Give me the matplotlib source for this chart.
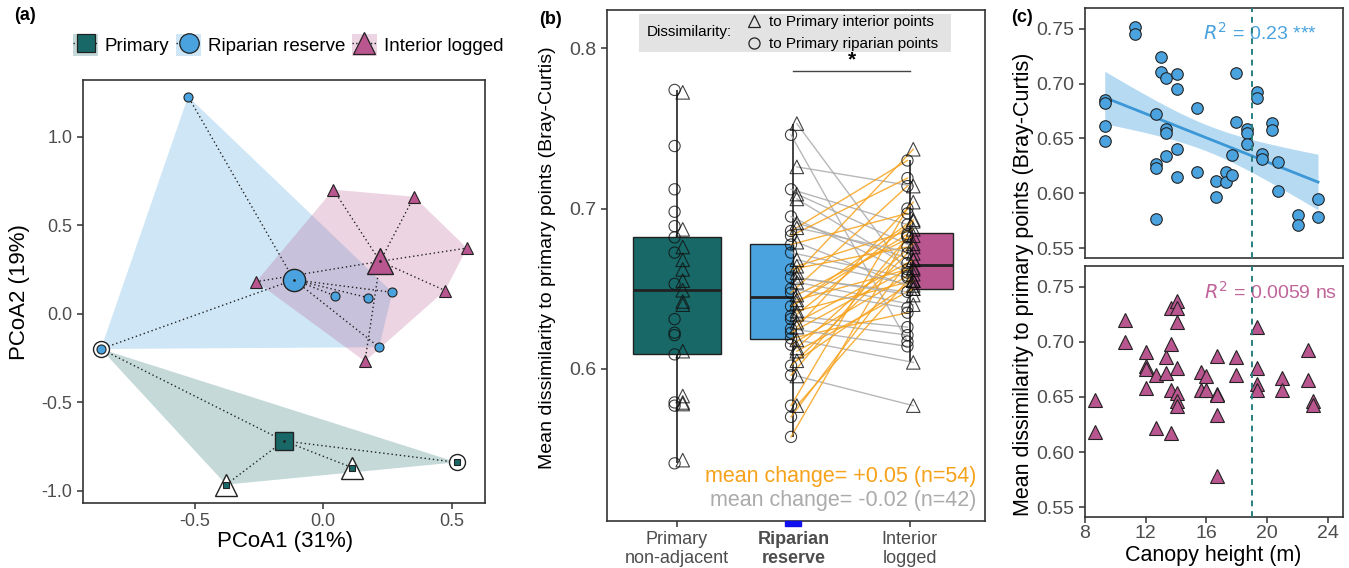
import numpy as np
import matplotlib
matplotlib.use('Agg')
import matplotlib.pyplot as plt
import matplotlib.transforms as mtransforms
from matplotlib.lines import Line2D
from matplotlib.patches import Patch, Rectangle, Polygon
from matplotlib.legend_handler import HandlerTuple
from matplotlib.ticker import FormatStrFormatter

plt.rcParams['font.family'] = ['Liberation Sans', 'DejaVu Sans']
plt.rcParams['axes.unicode_minus'] = False

PRIM = '#186868'
RIP = '#4aa3df'
LOG = '#b9558f'
ORANGE = '#f7a21b'
GREY = '#ababab'
TICK = '#4d4d4d'

# ---- (a) PCoA ordination
prim_x = [-0.864, -0.377, 0.113, 0.520]
prim_y = [-0.200, -0.966, -0.870, -0.840]
prim_kind = ['riparian', 'interior', 'interior', 'riparian']
rip_x = [-0.525, 0.047, 0.175, 0.270, 0.218, -0.864]
rip_y = [1.226, 0.100, 0.090, 0.120, -0.190, -0.200]
log_x = [0.040, 0.354, 0.560, 0.475, 0.163, -0.260]
log_y = [0.700, 0.660, 0.370, 0.130, -0.270, 0.180]

# ---- (b) dissimilarity to primary points
prim_tri = [0.7725, 0.687, 0.676, 0.668, 0.662, 0.655, 0.649, 0.642, 0.640,
            0.611, 0.583, 0.579, 0.578, 0.543]
prim_circ = [0.774, 0.739, 0.712, 0.698, 0.689, 0.682, 0.6725, 0.653, 0.631,
             0.6225, 0.621, 0.609, 0.579, 0.577, 0.541]
# riparian point -> paired interior logged point
rip_vals = [0.753, 0.746, 0.726, 0.712, 0.709, 0.706, 0.695, 0.691, 0.686, 0.683,
            0.679, 0.6775, 0.6725, 0.664, 0.660, 0.657, 0.654, 0.6475, 0.646, 0.643,
            0.639, 0.636, 0.633, 0.631, 0.629, 0.626, 0.6225, 0.619, 0.618, 0.613,
            0.611, 0.602, 0.596, 0.5955, 0.577, 0.577, 0.570, 0.5575, 0.668, 0.662,
            0.650, 0.641, 0.657, 0.634, 0.625, 0.615, 0.605, 0.688]
log_vals = [0.655, 0.617, 0.714, 0.690, 0.676, 0.662, 0.660, 0.668, 0.730, 0.719,
            0.650, 0.697, 0.657, 0.687, 0.737, 0.648, 0.640, 0.714, 0.683, 0.663,
            0.684, 0.655, 0.626, 0.621, 0.668, 0.704, 0.662, 0.635, 0.604, 0.678,
            0.650, 0.672, 0.682, 0.577, 0.659, 0.700, 0.666, 0.683, 0.652, 0.676,
            0.638, 0.693, 0.646, 0.692, 0.614, 0.658, 0.655, 0.672]
pair_marker = ['^', 'o', '^', 'o', '^', '^', 'o', '^', 'o', 'o',
               '^', 'o', 'o', '^', '^', 'o', '^', 'o', '^', '^',
               'o', '^', 'o', 'o', '^', '^', 'o', 'o', '^', '^',
               '^', 'o', 'o', '^', '^', 'o', 'o', 'o', '^', 'o',
               'o', '^', '^', '^', 'o', 'o', '^', '^']
groups_b = ['Primary\nnon-adjacent', 'Riparian\nreserve', 'Interior\nlogged']

# ---- (c) canopy height
rip_height = [9.3, 9.3, 9.3, 9.3, 11.27, 11.27, 12.67, 12.67, 12.67, 12.67,
              13.0, 13.0, 13.33, 13.33, 13.33, 13.33, 14.03, 14.03, 14.03, 14.03,
              15.35, 15.35, 16.66, 16.66, 17.32, 17.32, 17.7, 17.7, 17.98, 17.98,
              18.64, 18.64, 18.64, 19.34, 19.34, 19.69, 19.69, 20.35, 20.35,
              20.7, 20.7, 22.0, 22.0, 23.35, 23.35]
rip_dissim = [0.685, 0.682, 0.661, 0.648, 0.752, 0.745, 0.672, 0.627, 0.623, 0.577,
              0.724, 0.711, 0.705, 0.659, 0.655, 0.634, 0.709, 0.695, 0.640, 0.615,
              0.678, 0.619, 0.611, 0.597, 0.619, 0.610, 0.635, 0.617, 0.710, 0.665,
              0.659, 0.655, 0.645, 0.692, 0.687, 0.636, 0.631, 0.664, 0.658,
              0.629, 0.602, 0.580, 0.571, 0.595, 0.578]
log_height = [8.66, 8.66, 10.63, 10.63, 11.99, 11.99, 11.99, 11.99, 12.67, 12.67,
              13.33, 13.33, 13.66, 13.66, 13.66, 13.66, 14.03, 14.03, 14.03, 14.03,
              14.03, 14.03, 14.03, 15.61, 15.61, 16.0, 16.0, 16.7, 16.7, 16.7, 16.7,
              16.7, 17.98, 17.98, 19.36, 19.36, 19.36, 19.36, 21.0, 21.0, 22.7, 22.7,
              23.0, 23.0]
log_dissim = [0.647, 0.618, 0.720, 0.700, 0.691, 0.678, 0.675, 0.658, 0.670, 0.622,
              0.686, 0.672, 0.731, 0.698, 0.656, 0.617, 0.737, 0.731, 0.718, 0.676,
              0.654, 0.646, 0.642, 0.673, 0.656, 0.669, 0.656, 0.687, 0.653, 0.652,
              0.634, 0.578, 0.686, 0.670, 0.714, 0.676, 0.662, 0.656, 0.667, 0.656,
              0.693, 0.665, 0.646, 0.643]


def convex_hull(xs, ys):
    pts = sorted(set(zip(xs, ys)))

    def cross(o, a, b):
        return (a[0] - o[0]) * (b[1] - o[1]) - (a[1] - o[1]) * (b[0] - o[0])

    lower, upper = [], []
    for p in pts:
        while len(lower) >= 2 and cross(lower[-2], lower[-1], p) <= 0:
            lower.pop()
        lower.append(p)
    for p in reversed(pts):
        while len(upper) >= 2 and cross(upper[-2], upper[-1], p) <= 0:
            upper.pop()
        upper.append(p)
    return lower[:-1] + upper[:-1]


def style_axes(ax, size=13):
    for s in ax.spines.values():
        s.set_color('#333333')
        s.set_linewidth(1.2)
    ax.tick_params(colors='#333333', labelcolor=TICK, labelsize=size, width=1.1, length=4)


fig = plt.figure(figsize=(13.49, 5.68), dpi=100)

# ================= panel (a)
ax1 = fig.add_axes([0.0615, 0.1144, 0.298, 0.745])
groups_a = [(prim_x, prim_y, PRIM, 's', 5, 13.5, 0.25),
            (rip_x, rip_y, RIP, 'o', 6.5, 16, 0.27),
            (log_x, log_y, LOG, '^', 8.5, 19, 0.25)]
for xs, ys, col, mk, ms, cms, al in groups_a:
    ax1.add_patch(Polygon(convex_hull(xs, ys), closed=True, facecolor=col,
                          alpha=al, edgecolor='none', zorder=1))
for xs, ys, col, mk, ms, cms, al in groups_a:
    cx, cy = np.mean(xs), np.mean(ys)
    for x, y in zip(xs, ys):
        ax1.plot([cx, x], [cy, y], ls=(0, (1, 2)), color='#222222', lw=1.0, zorder=2)
for x, y, k in zip(prim_x, prim_y, prim_kind):
    ax1.plot(x, y, marker='o' if k == 'riparian' else '^', ms=11.5 if k == 'riparian' else 16,
             mfc='white', mec='#222222', mew=1.0, zorder=3)
for xs, ys, col, mk, ms, cms, al in groups_a:
    ax1.plot(xs, ys, ls='none', marker=mk, ms=ms, mfc=col, mec='#222222', mew=0.8, zorder=4)
    ax1.plot(np.mean(xs), np.mean(ys), marker=mk, ms=cms, mfc=col, mec='#222222',
             mew=1.0, zorder=5)
    ax1.plot(np.mean(xs), np.mean(ys), marker='.', ms=2, color='#222222', zorder=6)
ax1.set_xlim(-0.934, 0.63)
ax1.set_ylim(-1.07, 1.32)
ax1.set_xticks([-0.5, 0.0, 0.5])
ax1.set_yticks([-1.0, -0.5, 0.0, 0.5, 1.0])
ax1.xaxis.set_major_formatter(FormatStrFormatter('%.1f'))
ax1.yaxis.set_major_formatter(FormatStrFormatter('%.1f'))
style_axes(ax1, 13)
fig.text(285 / 1349, 1 - 542 / 568, 'PCoA1 (31%)', ha='center', va='center', fontsize=16)
fig.text(20 / 1349, 1 - 292 / 568, 'PCoA2 (19%)', ha='center', va='center',
         fontsize=16, rotation=90)

leg_handles = []
for col, mk, ms, al in [(PRIM, 's', 13, 0.25), (RIP, 'o', 14, 0.27), (LOG, '^', 16, 0.25)]:
    leg_handles.append((Patch(facecolor=col, alpha=al, edgecolor='none'),
                        Line2D([], [], ls=':', color='#222222', lw=1),
                        Line2D([], [], ls='none', marker=mk, ms=ms, mfc=col,
                               mec='#222222', mew=0.9)))
fig.legend(leg_handles, ['Primary', 'Riparian reserve', 'Interior logged'],
           handler_map={tuple: HandlerTuple(ndivide=1)}, loc='center',
           bbox_to_anchor=(288 / 1349, 1 - 45 / 568), ncol=3, frameon=False,
           fontsize=13.5, handlelength=1.35, handleheight=1.45, handletextpad=0.35,
           columnspacing=0.35)

# ================= panel (b)
ax2 = fig.add_axes([0.450, 0.0827, 0.280, 0.900])


def draw_box(ax, vals, left, width, wx, col):
    q1, med, q3 = np.percentile(vals, [25, 50, 75])
    iqr = q3 - q1
    inside = [v for v in vals if q1 - 1.5 * iqr <= v <= q3 + 1.5 * iqr]
    ax.vlines(wx, min(inside), q1, color='#222222', lw=1.2, zorder=1)
    ax.vlines(wx, q3, max(inside), color='#222222', lw=1.2, zorder=1)
    ax.bar(left, q3 - q1, bottom=q1, width=width, align='edge', color=col,
           edgecolor='#222222', lw=1.0, zorder=1.5)
    ax.hlines(med, left, left + width, color='#222222', lw=2.0, zorder=1.6)


draw_box(ax2, prim_tri + prim_circ, 0.622, 0.756, 1.0, PRIM)
draw_box(ax2, rip_vals, 1.63, 0.37, 2.0, RIP)
draw_box(ax2, log_vals, 3.0, 0.375, 3.0, LOG)

off = {'^': 0.03, 'o': -0.02}
for r, l, mk in zip(rip_vals, log_vals, pair_marker):
    ax2.plot([2 + off[mk], 3 + off[mk]], [r, l], color=ORANGE if l > r else GREY,
             lw=1.0, alpha=0.85, zorder=2)

pts_style = dict(facecolors='none', edgecolors='#111111', linewidths=0.8, alpha=0.8, zorder=3)
ax2.scatter([1 + 0.05] * len(prim_tri), prim_tri, marker='^', s=95, **pts_style)
ax2.scatter([1 - 0.02] * len(prim_circ), prim_circ, marker='o', s=65, **pts_style)
for pos, vals in [(2, rip_vals), (3, log_vals)]:
    for v, mk in zip(vals, pair_marker):
        ax2.scatter(pos + off[mk], v, marker=mk, s=95 if mk == '^' else 65, **pts_style)

ax2.set_xlim(0.4, 3.644)
ax2.set_ylim(0.505, 0.824)
ax2.set_yticks([0.6, 0.7, 0.8])
ax2.yaxis.set_major_formatter(FormatStrFormatter('%.1f'))
ax2.set_xticks([1, 2, 3])
ax2.set_xticklabels(groups_b, linespacing=1.15)
style_axes(ax2, 14)
ax2.tick_params(axis='x', labelsize=13)
ax2.get_xticklabels()[1].set_fontweight('bold')
blend = mtransforms.blended_transform_factory(ax2.transData, ax2.transAxes)
ax2.add_patch(Rectangle((1.93, -0.009), 0.14, 0.009, transform=blend, color='#1010ee',
                        clip_on=False, zorder=5))

# legend box
ax2.add_patch(Rectangle((0.085, 0.918), 0.825, 0.074, transform=ax2.transAxes,
                        facecolor='#e3e3e3', edgecolor='none', zorder=4))
ax2.text(0.105, 0.956, 'Dissimilarity:', transform=ax2.transAxes, fontsize=11,
         va='center', zorder=5)
ax2.plot([0.388], [0.978], transform=ax2.transAxes, marker='^', ms=9, mfc='none',
         mec='#222222', mew=0.9, zorder=5)
ax2.plot([0.388], [0.935], transform=ax2.transAxes, marker='o', ms=8, mfc='none',
         mec='#222222', mew=0.9, zorder=5)
ax2.text(0.428, 0.977, 'to Primary interior points', transform=ax2.transAxes,
         fontsize=11, va='center', zorder=5)
ax2.text(0.428, 0.934, 'to Primary riparian points', transform=ax2.transAxes,
         fontsize=11, va='center', zorder=5)

ax2.plot([2, 3], [0.786, 0.786], color='#444444', lw=1.0)
ax2.text(2.5, 0.787, '*', ha='center', va='bottom', fontsize=15, fontweight='bold')
ax2.text(0.979, 0.088, 'mean change= +0.05 (n=54)', transform=ax2.transAxes,
         ha='right', va='center', fontsize=15.5, color=ORANGE)
ax2.text(0.979, 0.041, 'mean change= -0.02 (n=42)', transform=ax2.transAxes,
         ha='right', va='center', fontsize=15.5, color=GREY)
fig.text(548 / 1349, 1 - 258 / 568, 'Mean dissimilarity to primary points (Bray-Curtis)',
         rotation=90, ha='center', va='center', fontsize=14)

# ================= panel (c)
ax3 = fig.add_axes([0.8043, 0.5458, 0.1913, 0.4401])
ax4 = fig.add_axes([0.8043, 0.0898, 0.1913, 0.4419])


def fit_band(x, y, xs):
    x = np.asarray(x)
    y = np.asarray(y)
    n = len(x)
    b, a = np.polyfit(x, y, 1)
    resid = y - (a + b * x)
    s = np.sqrt(np.sum(resid ** 2) / (n - 2))
    se = s * np.sqrt(1 / n + (xs - x.mean()) ** 2 / np.sum((x - x.mean()) ** 2))
    fit = a + b * xs
    return fit, fit - 2.02 * se, fit + 2.02 * se


xs = np.linspace(min(rip_height), max(rip_height), 100)
fit, lo, hi = fit_band(rip_height, rip_dissim, xs)
ax3.fill_between(xs, lo, hi, color=RIP, alpha=0.4, lw=0, zorder=1)
ax3.plot(xs, fit, color='#3b97d6', lw=2, zorder=2)
ax3.plot(rip_height, rip_dissim, ls='none', marker='o', ms=8.3, mfc=RIP, mec='#222222',
         mew=0.8, zorder=3)
ax4.plot(log_height, log_dissim, ls='none', marker='^', ms=10, mfc=LOG, mec='#222222',
         mew=0.8, zorder=3)

for ax in (ax3, ax4):
    ax.axvline(19, color='#2a7f7f', ls=(0, (3, 2.5)), lw=1.4, zorder=4)
    ax.set_xlim(8, 25)
    ax.set_ylim(0.541, 0.769)
    ax.set_yticks([0.55, 0.60, 0.65, 0.70, 0.75])
    ax.yaxis.set_major_formatter(FormatStrFormatter('%.2f'))
    ax.set_xticks([8, 12, 16, 20, 24])
    style_axes(ax, 14)
ax3.tick_params(axis='x', labelbottom=False, length=0)
ax4.tick_params(axis='x', pad=1.5)
ax3.text(0.90, 0.90, r'$R^2$ = 0.23 ***', transform=ax3.transAxes, ha='right',
         va='center', fontsize=14, color='#4aa3df', zorder=3)
ax4.text(0.977, 0.896, r'$R^2$ = 0.0059 ns', transform=ax4.transAxes, ha='right',
         va='center', fontsize=14, color='#c0649a', zorder=3)
fig.text(1213 / 1349, 1 - 555 / 568, 'Canopy height (m)', ha='center', va='center',
         fontsize=15.5)
fig.text(1023 / 1349, 1 - 284 / 568, 'Mean dissimilarity to primary points (Bray-Curtis)',
         rotation=90, ha='center', va='center', fontsize=15.5)

fig.text(25 / 1349, 1 - 15 / 568, '(a)', ha='center', va='center', fontsize=13,
         fontweight='bold')
fig.text(551 / 1349, 1 - 20 / 568, '(b)', ha='center', va='center', fontsize=13,
         fontweight='bold')
fig.text(1022 / 1349, 1 - 17 / 568, '(c)', ha='center', va='center', fontsize=13,
         fontweight='bold')

fig.savefig('out.png', dpi=100)
